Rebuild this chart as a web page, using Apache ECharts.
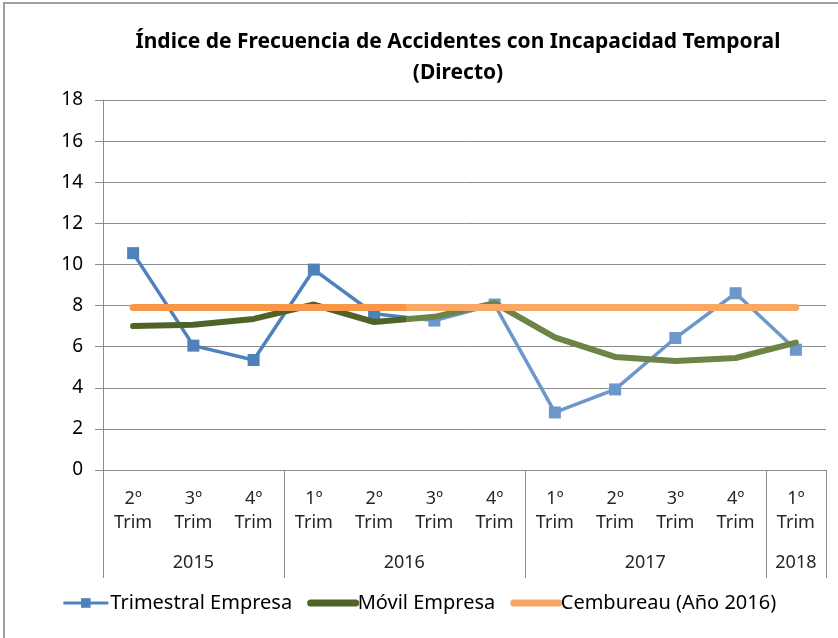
<!DOCTYPE html>
<html>
<head>
<meta charset="utf-8">
<script src="https://cdn.jsdelivr.net/npm/echarts@6/dist/echarts.min.js"></script>
<style>
  html, body { margin: 0; padding: 0; background: #fff; }
  #chart { position: absolute; left: 0; top: 0; width: 838px; height: 638px; }
  #frame { position: absolute; left: 3px; top: 2px; width: 840px; height: 640px;
           border-left: 2px solid #a0a0a0; border-top: 2px solid #a0a0a0; }
</style>
</head>
<body>
<div id="frame"></div>
<div id="chart"></div>
<script>
var quarters = ['2º\nTrim', '3º\nTrim', '4º\nTrim', '1º\nTrim', '2º\nTrim', '3º\nTrim',
                '4º\nTrim', '1º\nTrim', '2º\nTrim', '3º\nTrim', '4º\nTrim', '1º\nTrim'];
var years = ['2015', '2016', '2017', '2018'];
var quartersPerYear = [3, 4, 4, 1];
var trimestral = [10.55, 6.05, 5.35, 9.75, 7.6, 7.27, 8.05, 2.8, 3.92, 6.42, 8.6, 5.85];
var movil = [7.0, 7.07, 7.35, 8.05, 7.2, 7.45, 8.12, 6.45, 5.5, 5.3, 5.45, 6.2];
var cembureau = [7.9, 7.9, 7.9, 7.9, 7.9, 7.9, 7.9, 7.9, 7.9, 7.9, 7.9, 7.9];
var yTicks = ['0', '2', '4', '6', '8', '10', '12', '14', '16', '18'];

var font = '"Noto Sans", sans-serif';
var gray = '#8c8c8c';

// second (year) axis uses half-slots so labels can sit in the middle of each year span
var yearAxisData = [];
var yearBounds = [0];
var yearLabelAt = {};
(function () {
	for (var k = 0; k <= quarters.length * 2; k++) yearAxisData.push('');
	var start = 0;
	for (var i = 0; i < years.length; i++) {
		var mid = start * 2 + quartersPerYear[i];
		yearAxisData[mid] = years[i];
		yearLabelAt[mid] = true;
		start += quartersPerYear[i];
		yearBounds.push(start * 2);
	}
})();

// the original picture is a bit paler from the 3º Trim 2016 onward
var split = 0.413;
function twoTone(dark, light) {
	return {
		type: 'linear', x: 0, y: 0, x2: 1, y2: 0,
		colorStops: [
			{ offset: 0, color: dark }, { offset: split, color: dark },
			{ offset: split, color: light }, { offset: 1, color: light }
		]
	};
}
function pointTone(dark, light) {
	return function (p) { return p.dataIndex <= 4 ? dark : light; };
}

var myChart = echarts.init(document.getElementById('chart'));
var option = {
	animation: false,
	backgroundColor: 'transparent',
	title: {
		text: 'Índice de Frecuencia de Accidentes con Incapacidad Temporal\n(Directo)',
		left: 453,
		textAlign: 'center',
		top: 22,
		textStyle: { fontFamily: font, fontWeight: 'bold', fontSize: 21, lineHeight: 31, color: '#000' }
	},
	legend: {
		bottom: 20,
		left: 'center',
		itemWidth: 45,
		itemHeight: 12,
		itemGap: 15,
		textStyle: { fontFamily: font, fontSize: 20, color: '#000', padding: [0, 0, 0, -3] },
		data: [
			{ name: 'Trimestral Empresa', lineStyle: { color: '#4f81bd', width: 3 } },
			{ name: 'Móvil Empresa', itemStyle: { color: 'rgba(0,0,0,0)' }, lineStyle: { color: '#4f6228', width: 7, cap: 'round' } },
			{ name: 'Cembureau (Año 2016)', itemStyle: { color: 'rgba(0,0,0,0)' }, lineStyle: { color: '#f9a664', width: 7, cap: 'round' } }
		]
	},
	grid: { left: 103, right: 12, top: 100, bottom: 168 },
	xAxis: [{
		type: 'category',
		data: quarters,
		axisLine: { lineStyle: { color: gray, width: 1 } },
		axisTick: { length: 73, lineStyle: { color: gray } },
		axisLabel: { fontFamily: font, fontSize: 18, color: '#262626', lineHeight: 24, margin: 17, interval: 0 }
	}, {
		type: 'category',
		boundaryGap: false,
		position: 'bottom',
		data: yearAxisData,
		axisLine: { show: false },
		axisTick: {
			length: 108,
			lineStyle: { color: gray },
			interval: function (i) { return yearBounds.indexOf(i) >= 0; }
		},
		axisLabel: {
			fontFamily: font, fontSize: 18, color: '#262626', margin: 84,
			interval: function (i) { return !!yearLabelAt[i]; }
		}
	}],
	yAxis: {
		type: 'value',
		min: 0,
		max: 18,
		interval: 2,
		axisLine: { show: true, lineStyle: { color: gray } },
		axisTick: { show: true, length: 8, lineStyle: { color: gray } },
		splitLine: { lineStyle: { color: gray, width: 1 } },
		axisLabel: {
			fontFamily: font, fontSize: 19, color: '#000', margin: 20,
			formatter: function (v) { return yTicks[v / 2]; }
		}
	},
	series: [{
		name: 'Trimestral Empresa',
		type: 'line',
		z: 1,
		data: trimestral,
		symbol: 'rect',
		symbolSize: 12,
		color: '#4f81bd',
		lineStyle: { color: twoTone('#4f81bd', '#6b97cb'), width: 3.5 },
		itemStyle: { color: pointTone('#4f81bd', '#6b97cb') }
	}, {
		name: 'Móvil Empresa',
		type: 'line',
		z: 2,
		data: movil,
		symbol: 'none',
		color: '#4f6228',
		lineStyle: { color: twoTone('#4f6228', '#6e8446'), width: 6, cap: 'round', join: 'round' }
	}, {
		name: 'Cembureau (Año 2016)',
		type: 'line',
		z: 3,
		data: cembureau,
		symbol: 'none',
		color: '#f9a664',
		lineStyle: { color: twoTone('#f79646', '#f9a864'), width: 7, cap: 'round' }
	}]
};
myChart.setOption(option);
</script>
</body>
</html>
